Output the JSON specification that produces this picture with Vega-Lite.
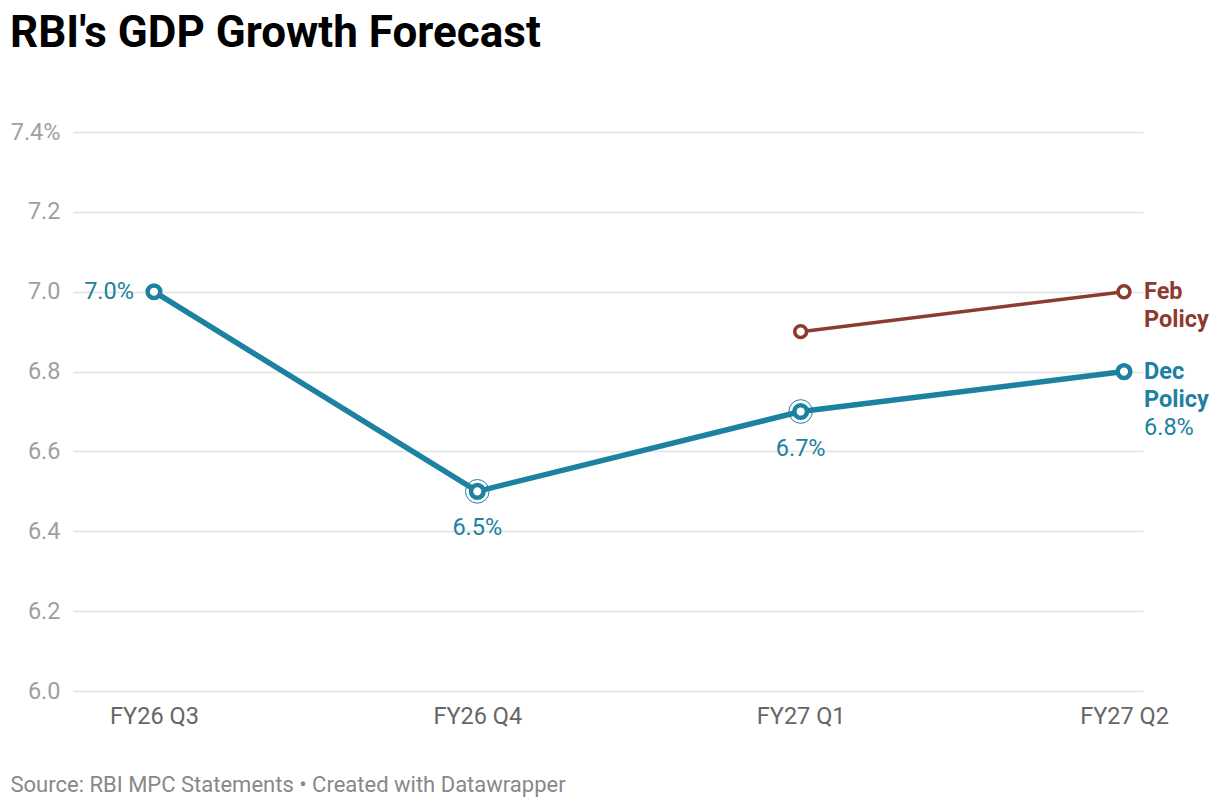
{
  "$schema": "https://vega.github.io/schema/vega-lite/v6.json",
  "width": 1070,
  "height": 559,
  "autosize": {"type": "none"},
  "padding": {"left": 73, "top": 132, "right": 77, "bottom": 117},
  "background": "white",
  "config": {"view": {"stroke": null}, "font": "Roboto"},
  "title": {
    "text": "RBI's GDP Growth Forecast",
    "anchor": "start",
    "frame": "group",
    "dx": -63,
    "offset": 29,
    "baseline": "alphabetic",
    "font": "Roboto",
    "fontSize": 44,
    "fontWeight": 700,
    "color": "#000000"
  },
  "data": {
    "values": [
      {"series": "Dec Policy", "period": "FY26 Q3", "value": 7.0},
      {"series": "Dec Policy", "period": "FY26 Q4", "value": 6.5},
      {"series": "Dec Policy", "period": "FY27 Q1", "value": 6.7},
      {"series": "Dec Policy", "period": "FY27 Q2", "value": 6.8},
      {"series": "Feb Policy", "period": "FY27 Q1", "value": 6.9},
      {"series": "Feb Policy", "period": "FY27 Q2", "value": 7.0}
    ]
  },
  "encoding": {
    "x": {
      "field": "period",
      "type": "ordinal",
      "sort": ["FY26 Q3", "FY26 Q4", "FY27 Q1", "FY27 Q2"],
      "scale": {"type": "point", "padding": 0.1546, "align": 0.81},
      "axis": {
        "domain": false,
        "ticks": false,
        "grid": false,
        "labelAngle": 0,
        "labelFont": "Roboto",
        "labelFontSize": 23.5,
        "labelColor": "#666666",
        "labelPadding": 13,
        "title": "Source: RBI MPC Statements • Created with Datawrapper",
        "titleFont": "Roboto",
        "titleFontSize": 22,
        "titleFontWeight": 400,
        "titleColor": "#888888",
        "titleAnchor": "start",
        "titleAlign": "left",
        "titleBaseline": "middle",
        "titleX": -63,
        "titleY": 93,
        "titleAngle": 0
      }
    },
    "y": {
      "field": "value",
      "type": "quantitative",
      "scale": {"domain": [6.0, 7.4], "nice": false, "zero": false},
      "axis": {
        "values": [6.0, 6.2, 6.4, 6.6, 6.8, 7.0, 7.2, 7.4],
        "labelExpr": "datum.value == 7.4 ? '7.4%' : format(datum.value, '.1f')",
        "domain": false,
        "ticks": false,
        "grid": true,
        "gridColor": "#e3e3e3",
        "gridWidth": 1.3,
        "labelFont": "Roboto",
        "labelFontSize": 23.5,
        "labelColor": "#a0a0a0",
        "labelPadding": 13,
        "title": null
      }
    }
  },
  "layer": [
    {
      "transform": [{"filter": "datum.series == 'Dec Policy'"}],
      "mark": {"type": "line", "color": "#1d81a2", "strokeWidth": 5.5}
    },
    {
      "transform": [{"filter": "datum.series == 'Feb Policy'"}],
      "mark": {"type": "line", "color": "#8e3b2f", "strokeWidth": 3.5}
    },
    {
      "transform": [{"filter": "datum.series == 'Dec Policy' && (datum.period == 'FY26 Q4' || datum.period == 'FY27 Q1')"}],
      "mark": {"type": "point", "shape": "circle", "filled": false, "stroke": "#1d81a2", "strokeWidth": 1, "size": 560, "opacity": 1}
    },
    {
      "transform": [{"filter": "datum.series == 'Dec Policy'"}],
      "mark": {"type": "point", "shape": "circle", "filled": true, "fill": "white", "stroke": "#1d81a2", "strokeWidth": 4.5, "size": 160, "opacity": 1}
    },
    {
      "transform": [{"filter": "datum.series == 'Feb Policy'"}],
      "mark": {"type": "point", "shape": "circle", "filled": true, "fill": "white", "stroke": "#8e3b2f", "strokeWidth": 3.5, "size": 140, "opacity": 1}
    },
    {
      "transform": [{"filter": "datum.series == 'Dec Policy' && datum.period == 'FY26 Q3'"}],
      "mark": {"type": "text", "align": "right", "baseline": "middle", "dx": -20, "fontSize": 23.5, "color": "#1d81a2", "font": "Roboto", "text": {"expr": "format(datum.value, '.1f') + '%'"}}
    },
    {
      "transform": [{"filter": "datum.series == 'Dec Policy' && (datum.period == 'FY26 Q4' || datum.period == 'FY27 Q1')"}],
      "mark": {"type": "text", "align": "center", "baseline": "middle", "dy": 37, "fontSize": 23.5, "color": "#1d81a2", "font": "Roboto", "text": {"expr": "format(datum.value, '.1f') + '%'"}}
    },
    {
      "transform": [{"filter": "datum.series == 'Feb Policy' && datum.period == 'FY27 Q2'"}],
      "mark": {"type": "text", "text": "Feb", "align": "left", "baseline": "middle", "dx": 20, "fontSize": 23.5, "fontWeight": 700, "color": "#8e3b2f", "font": "Roboto"}
    },
    {
      "transform": [{"filter": "datum.series == 'Feb Policy' && datum.period == 'FY27 Q2'"}],
      "mark": {"type": "text", "text": "Policy", "align": "left", "baseline": "middle", "dx": 20, "dy": 28, "fontSize": 23.5, "fontWeight": 700, "color": "#8e3b2f", "font": "Roboto"}
    },
    {
      "transform": [{"filter": "datum.series == 'Dec Policy' && datum.period == 'FY27 Q2'"}],
      "mark": {"type": "text", "text": "Dec", "align": "left", "baseline": "middle", "dx": 20, "fontSize": 23.5, "fontWeight": 700, "color": "#1d81a2", "font": "Roboto"}
    },
    {
      "transform": [{"filter": "datum.series == 'Dec Policy' && datum.period == 'FY27 Q2'"}],
      "mark": {"type": "text", "text": "Policy", "align": "left", "baseline": "middle", "dx": 20, "dy": 28, "fontSize": 23.5, "fontWeight": 700, "color": "#1d81a2", "font": "Roboto"}
    },
    {
      "transform": [{"filter": "datum.series == 'Dec Policy' && datum.period == 'FY27 Q2'"}],
      "mark": {"type": "text", "align": "left", "baseline": "middle", "dx": 20, "dy": 56, "fontSize": 23.5, "color": "#1d81a2", "font": "Roboto", "text": {"expr": "format(datum.value, '.1f') + '%'"}}
    }
  ]
}
